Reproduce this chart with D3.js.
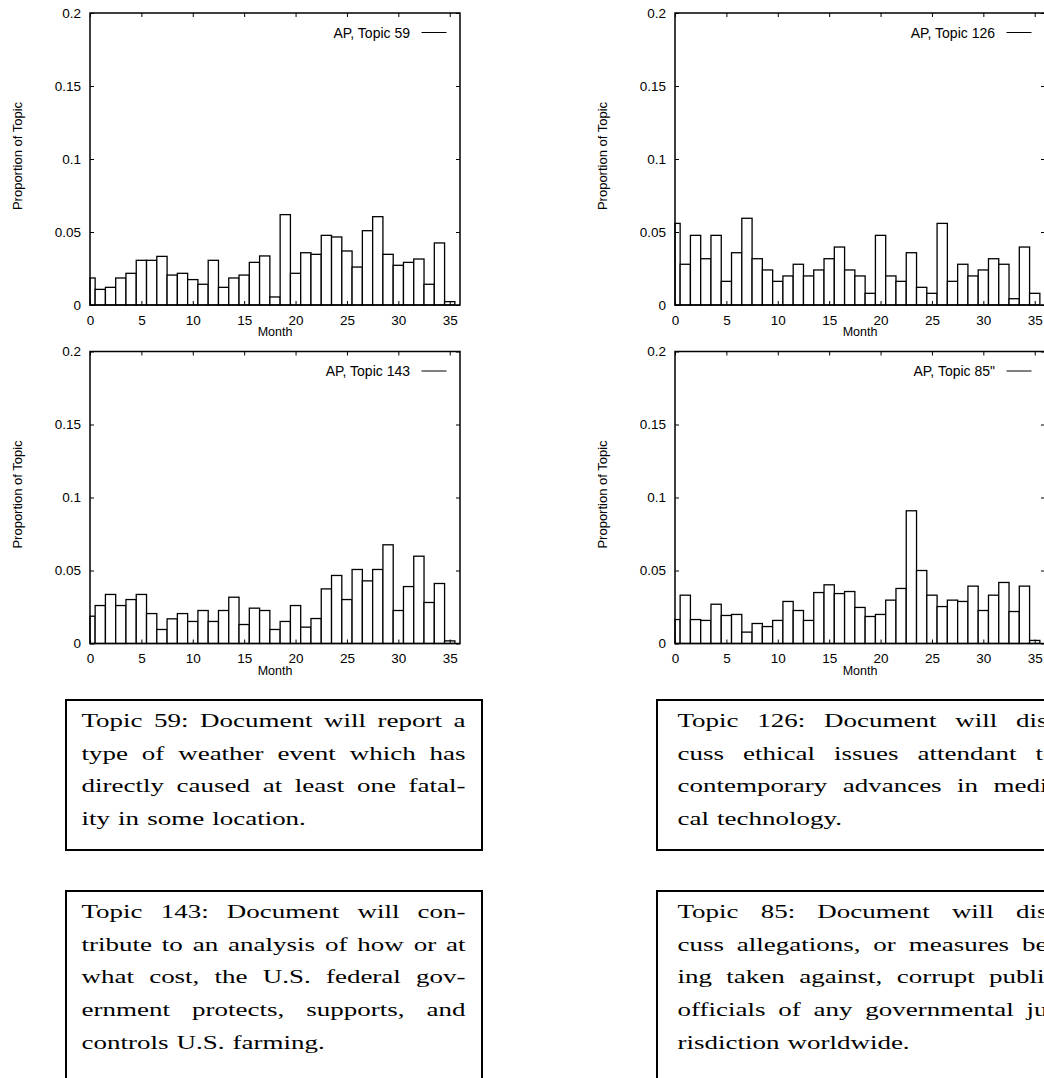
<!DOCTYPE html>
<html>
<head>
<meta charset="utf-8">
<script src="https://cdn.jsdelivr.net/npm/d3@7"></script>
<style>
  html, body { margin: 0; padding: 0; background: #fff; overflow: hidden; }
  svg { display: block; }
</style>
</head>
<body>
<svg id="fig" width="1044" height="1078"></svg>
<script>
// Months covered by the collection (bar centres)
const months = [0,1,2,3,4,5,6,7,8,9,10,11,12,13,14,15,16,17,18,19,20,21,22,23,24,25,26,27,28,29,30,31,32,33,34,35];

// Proportion of each month's documents assigned to the topic
const topic59  = [0.0185,0.0107,0.0121,0.0185,0.0217,0.0306,0.0306,0.0333,0.0205,0.0217,0.0174,0.0142,0.0306,0.0121,0.0185,0.0205,0.0292,0.0336,0.0055,0.0619,0.0217,0.0358,0.0347,0.0477,0.0466,0.0370,0.0260,0.0509,0.0605,0.0347,0.0272,0.0292,0.0315,0.0142,0.0425,0.0023];
const topic126 = [0.0559,0.0279,0.0477,0.0317,0.0477,0.0162,0.0358,0.0594,0.0317,0.0240,0.0162,0.0199,0.0279,0.0199,0.0240,0.0317,0.0397,0.0240,0.0199,0.0080,0.0477,0.0199,0.0162,0.0358,0.0121,0.0080,0.0559,0.0162,0.0279,0.0199,0.0240,0.0317,0.0279,0.0043,0.0397,0.0080];
const topic143 = [0.0187,0.0260,0.0336,0.0260,0.0301,0.0336,0.0205,0.0096,0.0169,0.0205,0.0151,0.0226,0.0151,0.0226,0.0317,0.0130,0.0242,0.0226,0.0096,0.0151,0.0260,0.0112,0.0171,0.0374,0.0466,0.0301,0.0507,0.0429,0.0507,0.0676,0.0226,0.0390,0.0598,0.0281,0.0411,0.0018];
const topic85  = [0.0164,0.0331,0.0164,0.0158,0.0269,0.0192,0.0199,0.0078,0.0137,0.0116,0.0158,0.0288,0.0226,0.0158,0.0349,0.0402,0.0342,0.0356,0.0247,0.0185,0.0199,0.0297,0.0377,0.0909,0.0500,0.0331,0.0253,0.0297,0.0288,0.0393,0.0226,0.0331,0.0418,0.0219,0.0393,0.0021];

// Axis ticks
const xTicks = [0,5,10,15,20,25,30,35];
const yTicks = [0,0.05,0.1,0.15,0.2];
const yTickLabels = ["0","0.05","0.1","0.15","0.2"];

// Legend entries
const legendLabels = ["AP, Topic 59", "AP, Topic 126", "AP, Topic 143", "AP, Topic 85\""];

// Topic descriptions, one string per typeset line
const desc59  = ["Topic 59: Document will report a", "type of weather event which has", "directly caused at least one fatal-", "ity in some location."];
const desc143 = ["Topic 143: Document will con-", "tribute to an analysis of how or at", "what cost, the U.S. federal gov-", "ernment protects, supports, and", "controls U.S. farming."];
const desc126 = ["Topic 126: Document will dis-", "cuss ethical issues attendant to", "contemporary advances in medi-", "cal technology."];
const desc85  = ["Topic 85: Document will dis-", "cuss allegations, or measures be-", "ing taken against, corrupt public", "officials of any governmental ju-", "risdiction worldwide."];

const SANS = "'Liberation Sans', Arial, Helvetica, sans-serif";
const SERIF = "'Liberation Serif', 'Times New Roman', serif";

const svg = d3.select("#fig");

const plotW = 370, plotH = 292;
const panels = [
  { values: topic59,  legend: legendLabels[0], left: 90,  top: 13 },
  { values: topic126, legend: legendLabels[1], left: 675, top: 13 },
  { values: topic143, legend: legendLabels[2], left: 90,  top: 351.5 },
  { values: topic85,  legend: legendLabels[3], left: 675, top: 351.5 }
];

function drawPanel(p) {
  const x = d3.scaleLinear().domain([0, 36]).range([p.left, p.left + plotW]);
  const y = d3.scaleLinear().domain([0, 0.2]).range([p.top + plotH, p.top]);
  const g = svg.append("g");

  // histogram bars, one per month, centred on the month
  g.append("g").selectAll("rect")
    .data(months.map((m, i) => ({ m, v: p.values[i] })))
    .join("rect")
    .attr("x", d => x(Math.max(0, d.m - 0.5)))
    .attr("width", d => x(d.m + 0.5) - x(Math.max(0, d.m - 0.5)))
    .attr("y", d => y(d.v))
    .attr("height", d => y(0) - y(d.v))
    .attr("fill", "#fff")
    .attr("stroke", "#000")
    .attr("stroke-width", 1.3);

  const styleAxis = sel => {
    sel.select(".domain").remove();
    sel.attr("font-family", SANS).attr("font-size", 13.5);
    sel.selectAll("text").attr("fill", "#000");
    sel.selectAll("line").attr("stroke", "#000");
  };

  g.append("g").attr("transform", `translate(0,${p.top + plotH})`)
    .call(d3.axisBottom(x).tickValues(xTicks).tickSizeInner(-4).tickSizeOuter(0).tickPadding(10))
    .call(styleAxis);
  g.append("g").attr("transform", `translate(0,${p.top})`)
    .call(d3.axisTop(x).tickValues(xTicks).tickSizeInner(-4).tickSizeOuter(0).tickFormat(() => ""))
    .call(styleAxis);
  g.append("g").attr("transform", `translate(${p.left},0)`)
    .call(d3.axisLeft(y).tickValues(yTicks).tickSizeInner(-4).tickSizeOuter(0).tickPadding(9)
      .tickFormat((d, i) => yTickLabels[i]))
    .call(styleAxis);
  g.append("g").attr("transform", `translate(${p.left + plotW},0)`)
    .call(d3.axisRight(y).tickValues(yTicks).tickSizeInner(-4).tickSizeOuter(0).tickFormat(() => ""))
    .call(styleAxis);

  // frame
  g.append("rect")
    .attr("x", p.left).attr("y", p.top)
    .attr("width", plotW).attr("height", plotH)
    .attr("fill", "none").attr("stroke", "#000").attr("stroke-width", 1.5);

  // axis titles
  g.append("text")
    .attr("x", p.left + plotW / 2).attr("y", p.top + plotH + 31)
    .attr("text-anchor", "middle")
    .attr("font-family", SANS).attr("font-size", 12.5)
    .text("Month");
  g.append("text")
    .attr("transform", `translate(${p.left - 68},${p.top + plotH / 2 - 3}) rotate(-90)`)
    .attr("text-anchor", "middle")
    .attr("font-family", SANS).attr("font-size", 13)
    .text("Proportion of Topic");

  // legend
  const right = p.left + plotW;
  g.append("text")
    .attr("x", right - 50).attr("y", p.top + 24.5)
    .attr("text-anchor", "end")
    .attr("font-family", SANS).attr("font-size", 14)
    .text(p.legend);
  g.append("line")
    .attr("x1", right - 38.5).attr("x2", right - 13.5)
    .attr("y1", p.top + 19.5).attr("y2", p.top + 19.5)
    .attr("stroke", "#000").attr("stroke-width", 1);
}

panels.forEach(drawPanel);

// Description boxes with justified, horizontally stretched serif text
const boxW = 416, stretch = 1.42, serifSize = 19;
const firstBaseline = 27, lineStep = 32.7;
const boxes = [
  { lines: desc59,  left: 66,  top: 700, height: 150, textX: 81.5, textW: 384 },
  { lines: desc143, left: 66,  top: 891, height: 210, textX: 81.5, textW: 384 },
  { lines: desc126, left: 657, top: 700, height: 150, textX: 677.5, textW: 379 },
  { lines: desc85,  left: 657, top: 891, height: 210, textX: 677.5, textW: 379 }
];

function drawBox(b) {
  const g = svg.append("g");
  g.append("rect")
    .attr("x", b.left).attr("y", b.top)
    .attr("width", boxW).attr("height", b.height)
    .attr("fill", "none").attr("stroke", "#000").attr("stroke-width", 2);

  const avail = b.textW / stretch;
  b.lines.forEach((line, i) => {
    const isLast = i === b.lines.length - 1;
    const t = g.append("text")
      .attr("transform", `translate(${b.textX},${b.top + firstBaseline + i * lineStep}) scale(${stretch},1)`)
      .attr("font-family", SERIF).attr("font-size", serifSize).attr("fill", "#000");
    const words = line.split(" ");
    const spans = words.map((w, j) => t.append("tspan").text(j < words.length - 1 ? w + " " : w));
    const widths = spans.map((s, j) => s.node().getSubStringLength(0, words[j].length));
    const total = d3.sum(widths);
    const gap = (isLast || words.length < 2) ? serifSize * 0.3 : (avail - total) / (words.length - 1);
    let cx = 0;
    spans.forEach((s, j) => { s.attr("x", cx); cx += widths[j] + gap; });
  });
}

boxes.forEach(drawBox);
</script>
</body>
</html>
